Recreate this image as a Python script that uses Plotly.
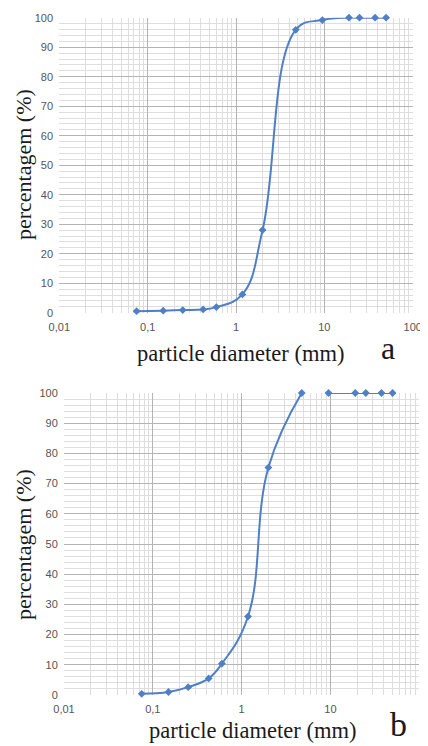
import plotly.graph_objects as go

# Sieve sizes (mm)
diam_a = [0.075, 0.15, 0.25, 0.425, 0.6, 1.18, 2.0, 4.75, 9.5, 19, 25, 37.5, 50]
pct_a = [0.5, 0.7, 0.9, 1.1, 1.9, 6.2, 28.0, 95.9, 99.2, 100, 100, 100, 100]

# chart b: the line is broken between 4.75 and 9.5 (missing value)
diam_b = [0.075, 0.15, 0.25, 0.425, 0.6, 1.18, 2.0, 4.75, 6.3, 9.5, 19, 25, 37.5, 50]
pct_b = [0.4, 1.0, 2.6, 5.5, 10.4, 26.0, 75.3, 100, None, 100, 100, 100, 100, 100]

x_tickvals = [0.01, 0.1, 1, 10, 100]
x_ticktext = ["0,01", "0,1", "1", "10", "100"]
y_tickvals = [0, 10, 20, 30, 40, 50, 60, 70, 80, 90, 100]

x_title = "particle diameter (mm)"
y_title = "percentagem (%)"
panel_labels = ["a", "b"]

# the page body has an 8px default margin: the figure starts at (8, 8)
OFF = 8
W, H = 428 - OFF, 746 - OFF
LINE = "#4f7fc4"
MAJOR = "#b4b4b4"
MINOR = "#dedede"
TICKC = "#555555"
SERIF = "Liberation Serif, Times New Roman, serif"
SANS = "Liberation Sans, Arial, sans-serif"

fig = go.Figure()

for name, xs, ys, xa, ya in [("a", diam_a, pct_a, "x", "y"), ("b", diam_b, pct_b, "x2", "y2")]:
    fig.add_trace(go.Scatter(
        x=xs, y=ys, xaxis=xa, yaxis=ya, mode="lines+markers",
        line=dict(color=LINE, width=2, shape="spline", smoothing=1.2),
        marker=dict(symbol="diamond", size=6, color=LINE),
        connectgaps=False, cliponaxis=False, showlegend=False,
    ))

def px_dom_x(l, r):
    return [(l - OFF) / W, (r - OFF) / W]

def px_dom_y(t, b):
    return [1 - (b - OFF) / H, 1 - (t - OFF) / H]

def xaxis(dom, anchor):
    return dict(
        type="log", range=[-2, 2], domain=dom, anchor=anchor, automargin=False,
        tickvals=x_tickvals, ticktext=x_ticktext,
        tickfont=dict(family=SANS, size=11, color=TICKC),
        ticks="outside", ticklen=4, tickcolor="rgba(0,0,0,0)",
        showgrid=True, gridcolor=MAJOR, gridwidth=1,
        minor=dict(dtick="D1", showgrid=True, gridcolor=MINOR, gridwidth=1, ticks=""),
        showline=False, zeroline=False, fixedrange=True,
    )

def yaxis(dom, anchor):
    return dict(
        range=[0, 100], domain=dom, anchor=anchor, automargin=False,
        tickvals=y_tickvals,
        tickfont=dict(family=SANS, size=11, color=TICKC),
        ticks="outside", ticklen=3, tickcolor="rgba(0,0,0,0)",
        showgrid=True, gridcolor=MAJOR, gridwidth=1,
        minor=dict(dtick=2, showgrid=True, gridcolor=MINOR, gridwidth=1, ticks=""),
        showline=False, zeroline=False, fixedrange=True,
    )

fig.update_layout(
    width=W, height=H,
    margin=dict(l=0, r=0, t=0, b=0),
    paper_bgcolor="white", plot_bgcolor="white",
    xaxis=xaxis(px_dom_x(59.3, 412.7), "y"),
    yaxis=yaxis(px_dom_y(17.7, 312.7), "x"),
    xaxis2=xaxis(px_dom_x(64, 419.3), "y2"),
    yaxis2=yaxis(px_dom_y(393, 695), "x2"),
)

def ann(text, x, y, size, angle=0, xanchor="center", yanchor="middle"):
    fig.add_annotation(
        text=text, x=(x - OFF) / W, y=1 - (y - OFF) / H, xref="paper", yref="paper",
        xanchor=xanchor, yanchor=yanchor, showarrow=False, textangle=angle,
        font=dict(family=SERIF, size=size, color="#1a1a1a"),
    )

# panel a
ann(x_title, 240, 353, 22.5)
ann(y_title, 23, 165, 22, angle=-90)
ann(panel_labels[0], 388, 348, 32)
# panel b
ann(x_title, 252, 730, 22.5)
ann(y_title, 23, 545, 22, angle=-90)
ann(panel_labels[1], 398, 724, 34)

fig.write_html("out.html")
